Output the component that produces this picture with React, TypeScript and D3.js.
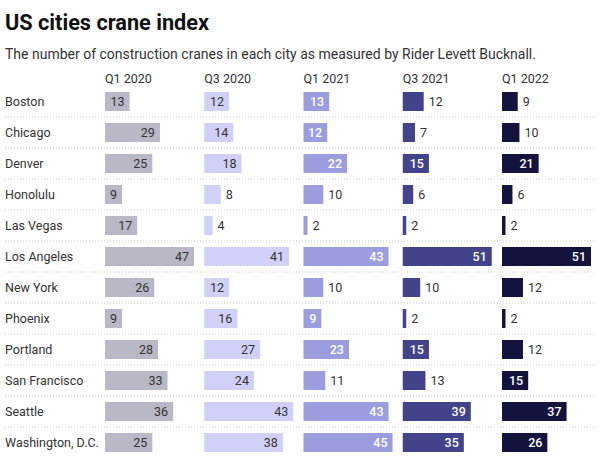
import React from 'react';
import * as d3 from 'd3';

const cities = ['Boston', 'Chicago', 'Denver', 'Honolulu', 'Las Vegas', 'Los Angeles', 'New York', 'Phoenix', 'Portland', 'San Francisco', 'Seattle', 'Washington, D.C.'];
const quarters = ['Q1 2020', 'Q3 2020', 'Q1 2021', 'Q3 2021', 'Q1 2022'];

const q1_2020 = [13, 29, 25, 9, 17, 47, 26, 9, 28, 33, 36, 25];
const q3_2020 = [12, 14, 18, 8, 4, 41, 12, 16, 27, 24, 43, 38];
const q1_2021 = [13, 12, 22, 10, 2, 43, 10, 9, 23, 11, 43, 45];
const q3_2021 = [12, 7, 15, 6, 2, 51, 10, 2, 15, 13, 39, 35];
const q1_2022 = [9, 10, 21, 6, 2, 51, 12, 2, 12, 15, 37, 26];

const series = [q1_2020, q3_2020, q1_2021, q3_2021, q1_2022];
const colors = ['#b9b8c6', '#d1d0f8', '#9c9ddf', '#43438c', '#13133e'];
const insideText = ['#333', '#333', '#fff', '#fff', '#fff'];

const W = 600;
const H = 466;
const FONT = 'Roboto, "Noto Sans", sans-serif';

let ctx: CanvasRenderingContext2D | null = null;
const textWidth = (s: string) => {
  if (!ctx) ctx = document.createElement('canvas').getContext('2d');
  if (!ctx) return s.length * 7.03;
  ctx.font = '12.5px Roboto';
  return ctx.measureText(s).width;
};

const App: React.FC = () => {
  const col = d3.scaleBand().domain(quarters).range([105, 105 + 5 * 99.25]);
  const row = d3.scaleBand().domain(cities).range([86, 86 + 12 * 31]);
  const barH = 19;

  return (
    <svg width={W} height={H} style={{ position: 'absolute', left: 0, top: 0, display: 'block', background: '#fff' }} fontFamily={FONT}>
      <text x={5} y={30} fontSize={21.7} fontWeight="bold" fill="#111">US cities crane index</text>
      <text x={5} y={59} fontSize={14} fill="#333">The number of construction cranes in each city as measured by Rider Levett Bucknall.</text>

      {quarters.map(q => (
        <text key={q} x={col(q)} y={83} fontSize={12.5} fill="#333">{q}</text>
      ))}

      {cities.map((c, i) => {
        const y0 = row(c) || 0;
        const cy = y0 + row.bandwidth() / 2;
        return (
          <g key={c}>
            <text x={5} y={cy} dy="0.35em" fontSize={12.5} fill="#333">{c}</text>
            {i < cities.length - 1 && (
              <line x1={5} x2={596} y1={y0 + row.bandwidth()} y2={y0 + row.bandwidth()} stroke="#c8c8c8" strokeDasharray="1,2" />
            )}
          </g>
        );
      })}

      {series.map((vals, k) => {
        const x = d3.scaleLinear().domain([0, d3.max(vals) || 1]).range([0, 89]);
        const x0 = col(quarters[k]) || 0;
        return (
          <g key={quarters[k]}>
            {vals.map((v, i) => {
              const cy = (row(cities[i]) || 0) + row.bandwidth() / 2;
              const w = x(v);
              const label = String(v);
              const inside = w >= textWidth(label) + 9.6;
              return (
                <g key={cities[i]}>
                  <rect x={x0} y={cy - barH / 2} width={w} height={barH} fill={colors[k]} />
                  <text
                    x={inside ? x0 + w - 5 : x0 + w + 5}
                    y={cy}
                    dy="0.35em"
                    fontSize={12.5}
                    textAnchor={inside ? 'end' : 'start'}
                    fill={inside ? insideText[k] : '#333'}
                    fontWeight={inside && k >= 2 ? 500 : 400}
                  >{label}</text>
                </g>
              );
            })}
          </g>
        );
      })}
    </svg>
  );
};

export default App;
